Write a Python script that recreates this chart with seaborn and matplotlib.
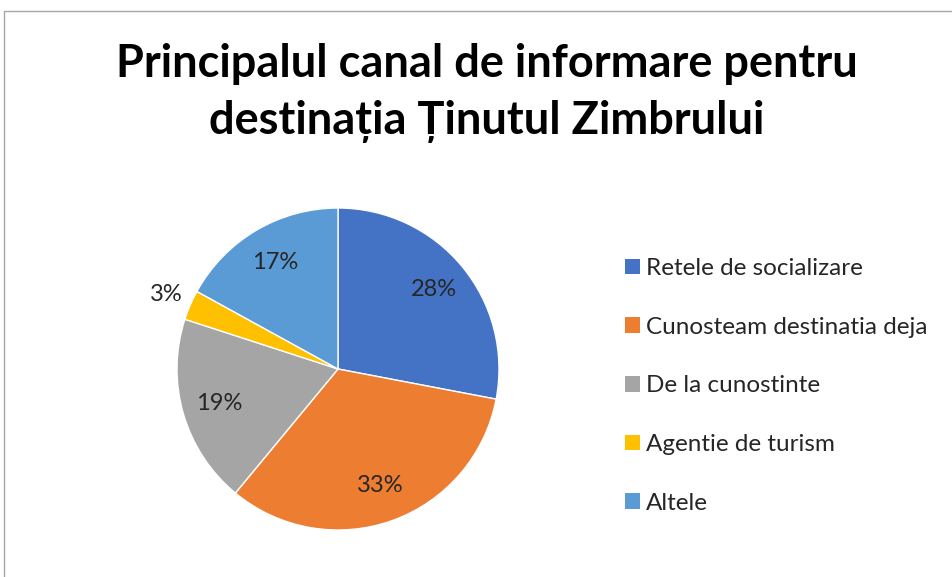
import numpy as np
import matplotlib
matplotlib.use("Agg")
import matplotlib.pyplot as plt
import seaborn as sns
from matplotlib.patches import Rectangle, Patch

categories = ["Retele de socializare", "Cunosteam destinatia deja", "De la cunostinte",
              "Agentie de turism", "Altele"]
shares = [28, 33, 19, 3, 17]
colors = ["#4472C4", "#ED7D31", "#A5A5A5", "#FFC000", "#5B9BD5"]
title = "Principalul canal de informare pentru\ndestinația Ținutul Zimbrului"

sns.set_theme(style="white")
plt.rcParams['font.family'] = ['Lato', 'DejaVu Sans']

W, H = 952, 577
fig = plt.figure(figsize=(W / 100, H / 100), dpi=100)

# pie axes: centre (338, 369) px, radius 161 px
cx, cy, r = 338, 369, 161
ax = fig.add_axes([(cx - r) / W, (H - cy - r) / H, 2 * r / W, 2 * r / H])
wedges, texts, autotexts = ax.pie(
    shares, colors=colors, startangle=90, counterclock=False,
    autopct="%1.0f%%", pctdistance=0.77,
    wedgeprops=dict(edgecolor="white", linewidth=1),
    textprops=dict(fontsize=17, color="#262626"))
ax.set_xlim(-1, 1)
ax.set_ylim(-1, 1)
ax.set_aspect("auto")
ax.axis("off")

# small slice label goes outside
for w, t, v in zip(wedges, autotexts, shares):
    if v < 5:
        x, y = t.get_position()
        t.set_position((x * 1.16 / 0.77, y * 1.16 / 0.77))

fig.text(487 / W, 1 - 93 / H, title, ha="center", va="center", fontsize=32.5,
         fontweight="bold", color="black", linespacing=1.42)

handles = [Patch(facecolor=c, edgecolor="none") for c in colors]
fig.legend(handles, categories, loc="center left", bbox_to_anchor=(625 / W, 1 - 386 / H),
           frameon=False, fontsize=17.5, handlelength=0.62, handleheight=0.62,
           handletextpad=0.25, labelspacing=1.55, labelcolor="#262626",
           borderpad=0, borderaxespad=0)

fig.add_artist(Rectangle((3.5 / W, -0.1), 1.2, 1 - 10.5 / H + 0.1, transform=fig.transFigure,
                         fill=False, edgecolor="#A6A6A6", linewidth=1))

fig.savefig("out.png", dpi=100, facecolor="white")
